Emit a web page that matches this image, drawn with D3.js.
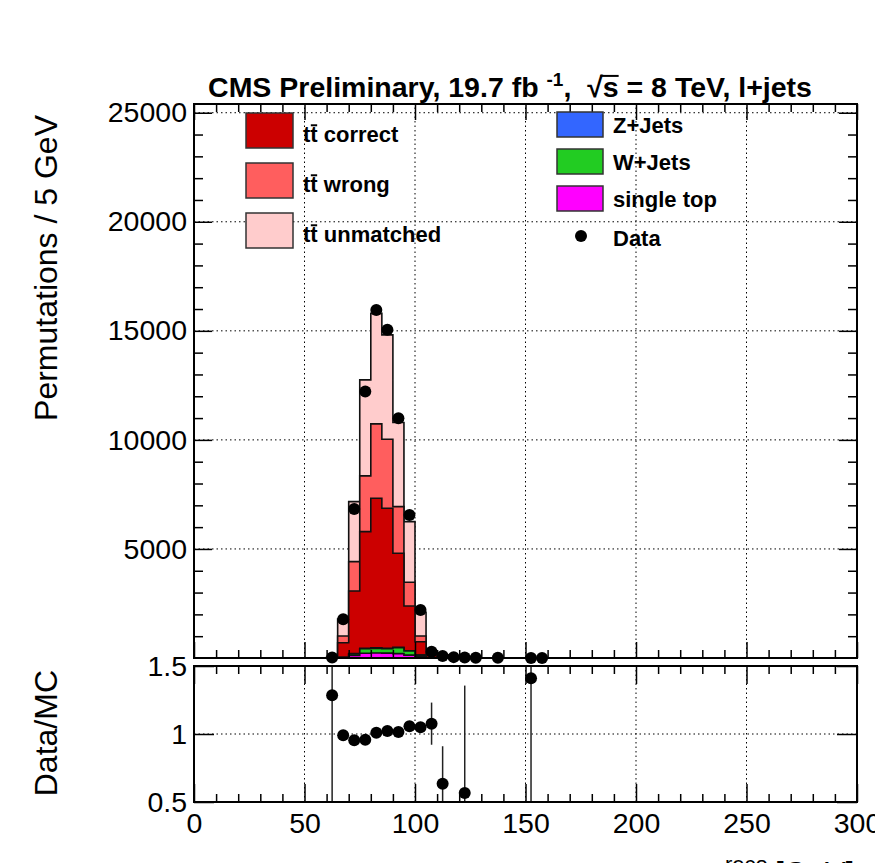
<!DOCTYPE html>
<html>
<head>
<meta charset="utf-8">
<script src="https://d3js.org/d3.v7.min.js"></script>
<style>
    body { margin: 0; background: #fff; }
    text { font-family: "Liberation Sans", Arial, Helvetica, sans-serif; }
</style>
</head>
<body>
<div id="chart"></div>
<script>
'use strict';
// bins of m_W^reco, 5 GeV wide (lower edges)
var binLo = [60, 65, 70, 75, 80, 85, 90, 95, 100, 105, 110, 115, 120, 125, 130, 135, 140, 145, 150, 155];
var binW = 5;

// stacked MC, bottom to top
var singleTop   = [2, 15, 120, 215, 230, 225, 200, 130, 70, 10, 5, 0, 2, 0, 0, 0, 0, 0, 0, 0];
var wJets       = [1, 10, 70, 210, 210, 200, 270, 190, 60, 10, 0, 0, 0, 0, 0, 0, 0, 0, 0, 0];
var zJets       = [0, 3, 10, 20, 25, 25, 20, 15, 10, 3, 0, 0, 0, 0, 0, 0, 0, 0, 0, 0];
var ttCorrect   = [10, 674, 2873, 5349, 6861, 6416, 4313, 2050, 608, 130, 60, 0, 20, 0, 0, 0, 0, 0, 0, 0];
var ttWrong     = [4, 307, 1345, 2555, 3408, 3166, 2137, 1087, 261, 40, 30, 0, 10, 0, 0, 0, 0, 0, 0, 0];
var ttUnmatched = [3, 781, 2752, 4403, 5066, 4785, 3860, 2781, 1081, 77, 55, 0, 12, 0, 0, 0, 0, 0, 2, 0];

var data = [25, 1775, 6835, 12215, 15950, 15046, 10995, 6560, 2202, 290, 95, 40, 25, 15, 0, 8, 0, 0, 3, 2];

// Data/MC as drawn in the lower pad (null = not shown)
var ratio    = [1.285, 0.99, 0.954, 0.958, 1.01, 1.022, 1.015, 1.057, 1.05, 1.076, 0.635, null, 0.566, null, null, null, null, null, 1.41, null];
var ratioErr = [2, 0.02, 0.012, 0.01, 0.01, 0.01, 0.012, 0.015, 0.025, 0.155, 0.275, null, 0.79, null, null, null, null, null, 2, null];

var xTicks = [0, 50, 100, 150, 200, 250, 300];
var yTicks = [5000, 10000, 15000, 20000, 25000];
var rTicks = [0.5, 1, 1.5];

var width = 875, height = 863;
var font = '"Liberation Sans", Arial, Helvetica, sans-serif';

var svg = d3.select('#chart').append('svg')
    .attr('width', width)
    .attr('height', height);
svg.append('rect').attr('width', width).attr('height', height).attr('fill', '#fff');

var x = d3.scaleLinear().domain([0, 300]).range([194, 857]);
var y = d3.scaleLinear().domain([0, 25400]).range([658, 104]);
var yr = d3.scaleLinear().domain([0.5, 1.5]).range([802, 666]);

function dotted(sel) {
    sel.attr('stroke', '#000').attr('stroke-width', 1).attr('stroke-dasharray', '1.5,3');
}

// grids
svg.append('g').selectAll('line').data(xTicks.slice(1, -1)).enter().append('line')
    .attr('x1', function (d) { return x(d); }).attr('x2', function (d) { return x(d); })
    .attr('y1', y.range()[0]).attr('y2', y.range()[1]).call(dotted);
svg.append('g').selectAll('line').data(yTicks).enter().append('line')
    .attr('x1', x.range()[0]).attr('x2', x.range()[1])
    .attr('y1', function (d) { return y(d); }).attr('y2', function (d) { return y(d); }).call(dotted);
svg.append('g').selectAll('line').data(xTicks.slice(1, -1)).enter().append('line')
    .attr('x1', function (d) { return x(d); }).attr('x2', function (d) { return x(d); })
    .attr('y1', yr.range()[0]).attr('y2', yr.range()[1]).call(dotted);
svg.append('line')
    .attr('x1', x.range()[0]).attr('x2', x.range()[1])
    .attr('y1', yr(1)).attr('y2', yr(1)).call(dotted);

// stack
var layers = [
    { vals: singleTop, color: '#ff00ff' },
    { vals: wJets, color: '#22cc22' },
    { vals: zJets, color: '#3366ff' },
    { vals: ttCorrect, color: '#cc0000' },
    { vals: ttWrong, color: '#ff5e5e' },
    { vals: ttUnmatched, color: '#ffcccc' }
];
var running = binLo.map(function () { return 0; });
layers.forEach(function (l) {
    running = running.map(function (r, i) { return r + l.vals[i]; });
    l.cum = running;
});

function stepPts(vals) {
    var pts = [[binLo[0], 0]];
    vals.forEach(function (v, i) {
        pts.push([binLo[i], v], [binLo[i] + binW, v]);
    });
    pts.push([binLo[binLo.length - 1] + binW, 0]);
    return pts;
}
var step = d3.line().x(function (d) { return x(d[0]); }).y(function (d) { return y(d[1]); });

layers.slice().reverse().forEach(function (l) {
    svg.append('path')
        .attr('d', step(stepPts(l.cum)) + 'Z')
        .attr('fill', l.color)
        .attr('stroke', '#111')
        .attr('stroke-width', 1.6);
});

// data points
var pts = binLo.map(function (b, i) { return { c: b + binW / 2, v: data[i] }; })
    .filter(function (d) { return d.v > 0; });
svg.append('g').selectAll('circle').data(pts).enter().append('circle')
    .attr('cx', function (d) { return x(d.c); })
    .attr('cy', function (d) { return y(d.v); })
    .attr('r', 6)
    .attr('fill', '#000');

// ratio pad
svg.append('clipPath').attr('id', 'rclip').append('rect')
    .attr('x', x.range()[0]).attr('y', yr.range()[1])
    .attr('width', x.range()[1] - x.range()[0]).attr('height', yr.range()[0] - yr.range()[1]);
var rpts = binLo.map(function (b, i) { return { c: b + binW / 2, r: ratio[i], e: ratioErr[i] }; })
    .filter(function (d) { return d.r !== null; });
var rg = svg.append('g').attr('clip-path', 'url(#rclip)');
rg.selectAll('line').data(rpts).enter().append('line')
    .attr('x1', function (d) { return x(d.c); }).attr('x2', function (d) { return x(d.c); })
    .attr('y1', function (d) { return yr(d.r - d.e); })
    .attr('y2', function (d) { return yr(d.r + d.e); })
    .attr('stroke', '#222').attr('stroke-width', 1.5);
rg.selectAll('circle').data(rpts).enter().append('circle')
    .attr('cx', function (d) { return x(d.c); })
    .attr('cy', function (d) { return yr(d.r); })
    .attr('r', 6)
    .attr('fill', '#000');

// ticks
function tickAxis(axis, tr, scale, values, size) {
    var g = svg.append('g').attr('transform', tr)
        .call(axis(scale).tickValues(values).tickSize(size).tickFormat(''));
    g.select('.domain').remove();
    g.selectAll('line').attr('stroke', '#000').attr('stroke-width', 1.5);
    return g;
}
var xMinor = d3.range(0, 301, 10).filter(function (d) { return d % 50; });
var yMinor = d3.range(1000, 25001, 1000).filter(function (d) { return d % 5000; });

tickAxis(d3.axisBottom, 'translate(0,658)', x, xTicks, -16);
tickAxis(d3.axisBottom, 'translate(0,658)', x, xMinor, -8);
tickAxis(d3.axisTop, 'translate(0,104)', x, xTicks, -16);
tickAxis(d3.axisTop, 'translate(0,104)', x, xMinor, -8);
tickAxis(d3.axisLeft, 'translate(194,0)', y, yTicks, -18);
tickAxis(d3.axisLeft, 'translate(194,0)', y, yMinor, -9);
tickAxis(d3.axisRight, 'translate(857,0)', y, yTicks, -18);
tickAxis(d3.axisRight, 'translate(857,0)', y, yMinor, -9);

tickAxis(d3.axisBottom, 'translate(0,802)', x, xTicks, -18);
tickAxis(d3.axisBottom, 'translate(0,802)', x, xMinor, -8);
tickAxis(d3.axisTop, 'translate(0,666)', x, xTicks, -18);
tickAxis(d3.axisTop, 'translate(0,666)', x, xMinor, -8);
tickAxis(d3.axisLeft, 'translate(194,0)', yr, rTicks, -20);
tickAxis(d3.axisRight, 'translate(857,0)', yr, rTicks, -20);

// labels
function labels(g) {
    g.select('.domain').remove();
    g.selectAll('text').attr('fill', '#000').style('font-size', '28.5px').style('font-family', font);
}
svg.append('g').attr('transform', 'translate(194,0)')
    .call(d3.axisLeft(y).tickValues(yTicks).tickSize(0).tickPadding(7).tickFormat(d3.format('d')))
    .call(labels);
svg.append('g').attr('transform', 'translate(194,0)')
    .call(d3.axisLeft(yr).tickValues(rTicks).tickSize(0).tickPadding(7).tickFormat(function (d) { return String(d); }))
    .call(labels);
svg.append('g').attr('transform', 'translate(0,802)')
    .call(d3.axisBottom(x).tickValues(xTicks).tickSize(0).tickPadding(11).tickFormat(function (d) { return String(d); }))
    .call(labels);

// frames
[[y.range()[1], y.range()[0]], [yr.range()[1], yr.range()[0]]].forEach(function (r) {
    svg.append('rect')
        .attr('x', x.range()[0]).attr('y', r[0])
        .attr('width', x.range()[1] - x.range()[0]).attr('height', r[1] - r[0])
        .attr('fill', 'none').attr('stroke', '#000').attr('stroke-width', 2);
});

// axis titles
svg.append('text')
    .attr('transform', 'translate(57,115) rotate(-90)')
    .attr('text-anchor', 'end')
    .style('font-size', '32px')
    .text('Permutations / 5 GeV');
svg.append('text')
    .attr('transform', 'translate(57,670) rotate(-90)')
    .attr('text-anchor', 'end')
    .style('font-size', '32px')
    .text('Data/MC');
// x title: only its top edge fits inside the canvas
var xt = svg.append('text').attr('x', 699).attr('y', 884).style('font-size', '31px');
xt.append('tspan').text('m');
xt.append('tspan').attr('dy', 12).style('font-size', '22px').text('W');
xt.append('tspan').attr('x', 725).attr('dy', -24).style('font-size', '22px').text('reco');
xt.append('tspan').attr('x', 775).attr('dy', 12).text('[GeV]');

// title
var title = svg.append('text')
    .attr('x', 510).attr('y', 97)
    .attr('text-anchor', 'middle')
    .style('font-size', '28.5px')
    .style('font-weight', 'bold')
    .style('white-space', 'pre');
title.append('tspan').text('CMS Preliminary, 19.7 fb ');
title.append('tspan').attr('dy', -11).style('font-size', '19px').text('-1');
title.append('tspan').attr('dy', 11).text(',  \u221As = 8 TeV, l+jets');
(function () {
    var node = title.node();
    var idx = node.textContent.indexOf('\u221As');
    var rad = node.getExtentOfChar(idx);
    var s = node.getExtentOfChar(idx + 1);
    svg.append('line')
        .attr('x1', rad.x + rad.width * 0.85).attr('x2', s.x + s.width)
        .attr('y1', 97 - 0.74 * 28.5).attr('y2', 97 - 0.74 * 28.5)
        .attr('stroke', '#000').attr('stroke-width', 2);
})();

// legend
var legLeft = [
    { name: 'tt correct', color: '#cc0000' },
    { name: 'tt wrong', color: '#ff5e5e' },
    { name: 'tt unmatched', color: '#ffcccc' }
];
var legRight = [
    { name: 'Z+Jets', color: '#3366ff' },
    { name: 'W+Jets', color: '#22cc22' },
    { name: 'single top', color: '#ff00ff' },
    { name: 'Data', color: null }
];
legLeft.forEach(function (d, i) {
    var top = 113 + i * 50;
    svg.append('rect').attr('x', 246).attr('y', top).attr('width', 47).attr('height', 35)
        .attr('fill', d.color).attr('stroke', '#333').attr('stroke-width', 1.5);
    var t = svg.append('text').attr('x', 303).attr('y', top + 29)
        .style('font-size', '22px').style('font-weight', 'bold').text(d.name);
    var e = t.node().getExtentOfChar(1);
    svg.append('line')
        .attr('x1', e.x + 0.5).attr('x2', e.x + e.width - 0.5)
        .attr('y1', top + 29 - 0.76 * 22).attr('y2', top + 29 - 0.76 * 22)
        .attr('stroke', '#000').attr('stroke-width', 2);
});
legRight.forEach(function (d, i) {
    var top = 112 + i * 37;
    if (d.color) {
        svg.append('rect').attr('x', 557).attr('y', top).attr('width', 46).attr('height', 25)
            .attr('fill', d.color).attr('stroke', '#333').attr('stroke-width', 1.5);
    } else {
        svg.append('circle').attr('cx', 581).attr('cy', top + 13).attr('r', 6).attr('fill', '#000');
    }
    svg.append('text').attr('x', 613).attr('y', top + 21 + (d.color ? 0 : 2))
        .style('font-size', '22px').style('font-weight', 'bold').text(d.name);
});
</script>
</body>
</html>
